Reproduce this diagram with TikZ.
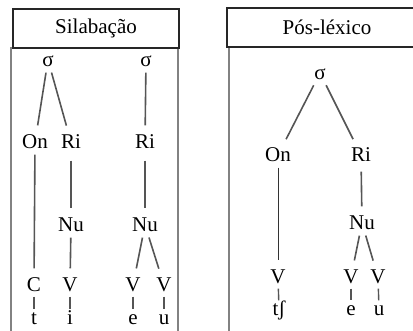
\documentclass[tikz,border=0pt]{standalone}
\usepackage{fontspec}
\setmainfont{Liberation Serif}
\definecolor{framegray}{RGB}{130,130,130}
\definecolor{branchgray}{RGB}{85,85,85}

\begin{document}
\begin{tikzpicture}[x=1pt, y=-1pt,
        lbl/.style={inner sep=2pt, text height=13pt, text depth=0pt, font=\fontsize{21}{25}\selectfont},
        branch/.style={branchgray, line width=1.6pt, shorten <=4pt, shorten >=8pt},
        tick/.style={branchgray, line width=1.4pt, shorten <=3pt},
        titlebox/.style={draw=black!85, line width=1.5pt, fill=white, font=\fontsize{21}{25}\selectfont},
        framebox/.style={draw=framegray, line width=2.6pt}]
        \useasboundingbox (0,0) rectangle (413,330);

        % frames
        \draw[framebox] (11,48) rectangle (178,345);
        \draw[framebox] (229,47) rectangle (430,345);
        \node[titlebox, minimum width=166pt, minimum height=39pt] (silab) at (96,28.5) {Silabação};
        \node[titlebox, minimum width=200pt, minimum height=39pt] (poslex) at (327,27.5) {Pós-léxico};

        % Silabacao
        \node[lbl] (sigA) at (48,60) {σ};
        \node[lbl] (sigB) at (146,60) {σ};
        \node[lbl] (onA) at (35,142) {On};
        \node[lbl] (riA) at (71,142) {Ri};
        \node[lbl] (riB) at (145,142) {Ri};
        \node[lbl] (nuA) at (71,225) {Nu};
        \node[lbl] (nuB) at (145,225) {Nu};
        \node[lbl] (cA) at (34,285) {C};
        \node[lbl] (vA) at (70,285) {V};
        \node[lbl] (vB) at (133,285) {V};
        \node[lbl] (vC) at (164,285) {V};
        \node[lbl] (tA) at (34,318) {t};
        \node[lbl] (iA) at (70,318) {i};
        \node[lbl] (eA) at (133,318) {e};
        \node[lbl] (uA) at (164,318) {u};

        \draw[branch] (sigA) -- (onA);
        \draw[branch] (sigA) -- (riA);
        \draw[branch] (sigB) -- (riB);
        \draw[branch] (onA) -- (cA);
        \draw[branch, shorten <=10pt] (riA) -- (nuA);
        \draw[branch, shorten <=10pt] (riB) -- (nuB);
        \draw[branch] (nuA) -- (vA);
        \draw[branch] (nuB) -- (vB);
        \draw[branch] (nuB) -- (vC);
        \draw[tick] (cA) -- (tA);
        \draw[tick] (vA) -- (iA);
        \draw[tick] (vB) -- (eA);
        \draw[tick] (vC) -- (uA);

        % Pos-lexico
        \node[lbl] (sigC) at (320,73) {σ};
        \node[lbl] (onC) at (278,155) {On};
        \node[lbl] (riC) at (361,155) {Ri};
        \node[lbl] (nuC) at (362,223) {Nu};
        \node[lbl] (vD) at (278,277) {V};
        \node[lbl] (vE) at (351,277) {V};
        \node[lbl] (vF) at (378,277) {V};
        \node[lbl] (tsh) at (279,309) {tʃ};
        \node[lbl] (eC) at (351,309) {e};
        \node[lbl] (uC) at (379,309) {u};

        \draw[branch] (sigC) -- (onC);
        \draw[branch] (sigC) -- (riC);
        \draw[branch, black!80, line width=0.8pt] (onC) -- (vD);
        \draw[branch, shorten <=8pt] (riC) -- (nuC);
        \draw[branch] (nuC) -- (vE);
        \draw[branch] (nuC) -- (vF);
        \draw[tick] (vD) -- (tsh);
        \draw[tick] (vE) -- (eC);
        \draw[tick] (vF) -- (uC);
    \end{tikzpicture}
\end{document}
